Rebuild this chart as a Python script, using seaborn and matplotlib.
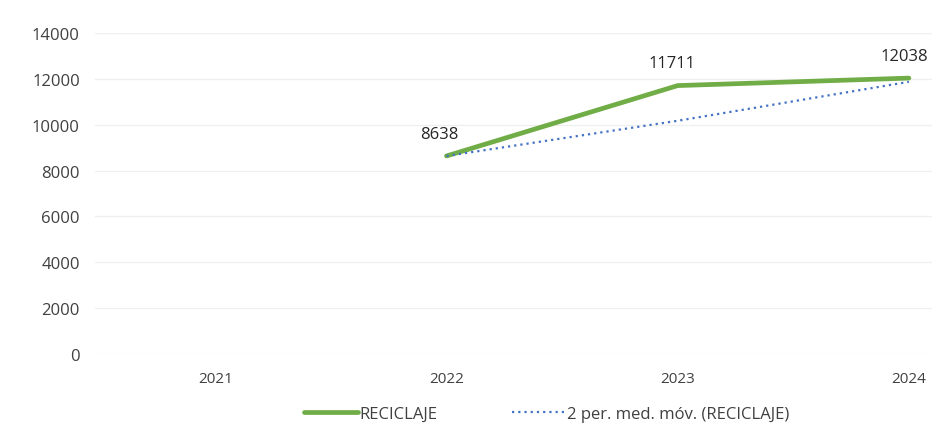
import numpy as np
import pandas as pd
import matplotlib
matplotlib.use("Agg")
import matplotlib.pyplot as plt
import seaborn as sns

# datos
years = ["2021", "2022", "2023", "2024"]
reciclaje = [np.nan, 8638, 11711, 12038]
media_movil = [np.nan, 8638, 10175, 11875]
labels_text = ["", "8638", "11711", "12038"]

sns.set_theme(style="white")
plt.rcParams["font.family"] = ["Open Sans", "DejaVu Sans"]

df = pd.DataFrame({"year": years, "idx": range(len(years)),
                   "RECICLAJE": reciclaje, "mm": media_movil})

fig = plt.figure(figsize=(9.32, 4.27), dpi=100)
ax = fig.add_axes([0.102, 0.169, 0.898, 0.751])

sns.lineplot(data=df, x="idx", y="RECICLAJE", ax=ax, color="#70AD47",
             linewidth=3.4, label="RECICLAJE")
sns.lineplot(data=df, x="idx", y="mm", ax=ax, color="#4472C4",
             linewidth=1.6, linestyle=(0, (1, 1.8)),
             label="2 per. med. móv. (RECICLAJE)")

offs = [0, -5, -4, -3]
for i, t in enumerate(labels_text):
    if t:
        ax.annotate(t, (i, reciclaje[i]), xytext=(offs[i], 16),
                    textcoords="offset points", ha="center", va="center",
                    fontsize=12, color="#262626")

ax.set_ylim(0, 14000)
ax.set_yticks(range(0, 14001, 2000))
ax.set_xlim(-0.52, 3.1)
ax.set_xticks(range(len(years)))
ax.set_xticklabels(years)
ax.set_xlabel("")
ax.set_ylabel("")
ax.grid(axis="y", color="#efefef", linewidth=0.9)
ax.set_axisbelow(True)
for s in ax.spines.values():
    s.set_visible(False)
ax.tick_params(axis="x", length=0, labelsize=11, colors="#404040", pad=12)
ax.tick_params(axis="y", length=0, labelsize=12, colors="#404040", pad=11)

ax.legend(loc="upper center", bbox_to_anchor=(0.54, -0.115), ncol=2,
          frameon=False, fontsize=12, handlelength=3.2, columnspacing=4.5,
          handletextpad=0.1, labelcolor="#404040")

fig.savefig("out.png", dpi=100)
